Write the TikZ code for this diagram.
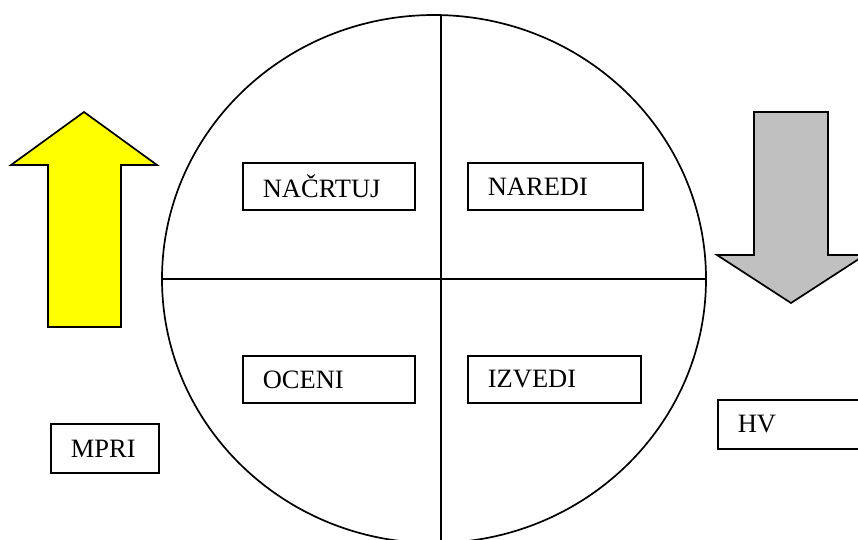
\documentclass[tikz,border=0pt]{standalone}
\usepackage{fontspec}
\setmainfont{Liberation Serif}
\begin{document}
\begin{tikzpicture}[x=1pt,y=-1pt,
  lbox/.style={draw, line width=1.7pt, inner xsep=20pt, inner ysep=0pt,
    text width=#1, align=left, minimum height=47pt, anchor=north west,
    font=\fontsize{26.5}{30}\selectfont},
  lbox/.default=132pt,
  shapeline/.style={line width=1.7pt, line join=miter}]
\useasboundingbox (0,0) rectangle (858,539);
% circle divided in four
\draw[shapeline] (434,279) ellipse [x radius=272, y radius=264];
\coordinate (hl) at (162,279);
\coordinate (hr) at (706,279);
\coordinate (vt) at (441,15);
\coordinate (vb) at (441,545);
\draw[shapeline] (hl) -- (hr);
\draw[shapeline] (vt) -- (vb);
% arrows
\draw[shapeline, fill={rgb,255:red,255;green,255;blue,0}] (84,112) -- (157,165) -- (121,165) -- (121,327) -- (48,327) -- (48,165) -- (11,165) -- cycle;
\draw[shapeline, fill={rgb,255:red,192;green,192;blue,192}] (754,112) -- (828,112) -- (828,255) -- (865,255) -- (791,303) -- (717,255) -- (754,255) -- cycle;
% labels
\node[lbox] (nacrtuj) at (242,162) {NAČRTUJ};
\node[lbox=135pt] (naredi) at (467,162) {NAREDI};
\node[lbox] (oceni) at (242,355) {OCENI};
\node[lbox=133pt] (izvedi) at (467,355) {IZVEDI};
\node[lbox=68pt, minimum height=49pt] (mpri) at (50,423) {MPRI};
\node[lbox=150pt, minimum height=49pt] (hv) at (717,399) {HV};
\end{tikzpicture}
\end{document}
